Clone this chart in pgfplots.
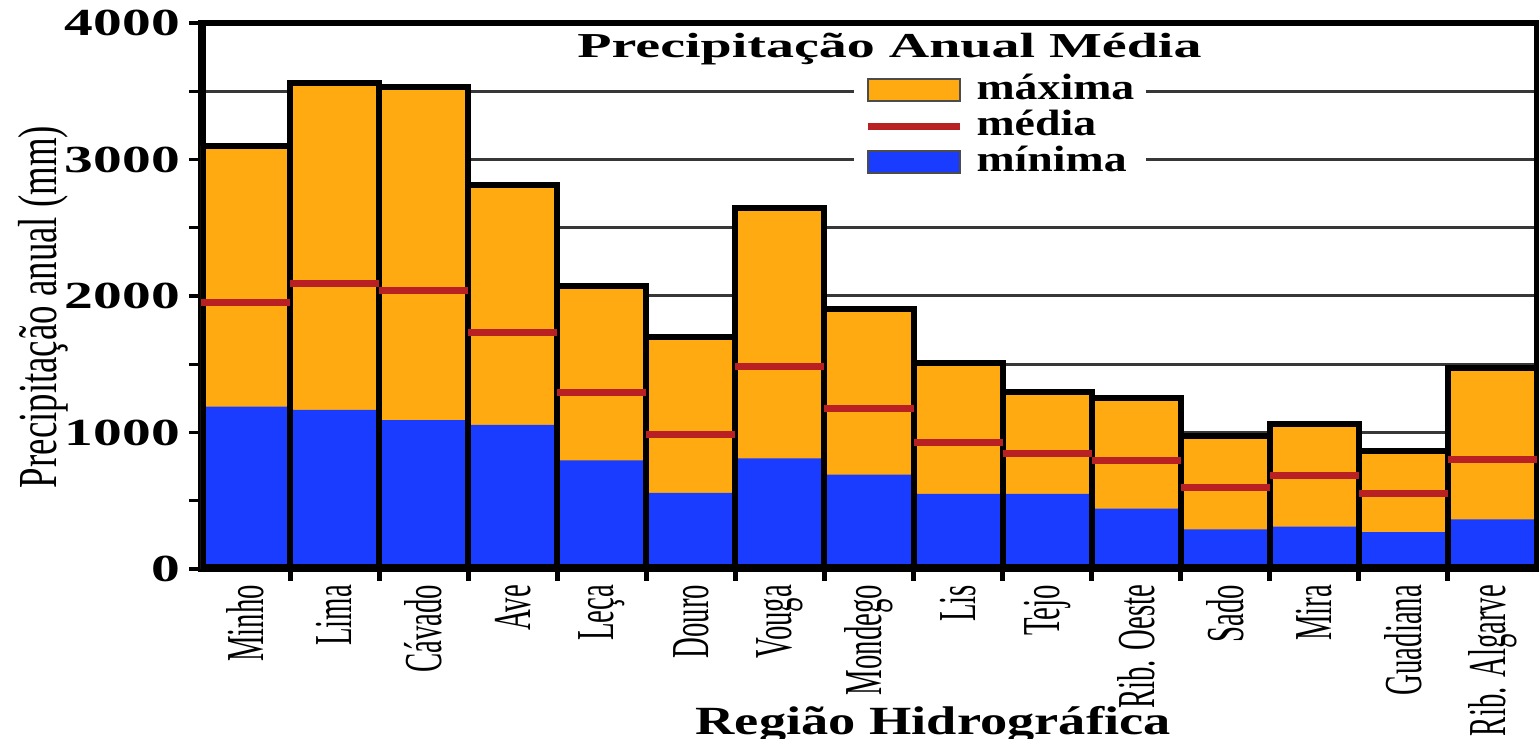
\documentclass[border=0pt]{standalone}
\usepackage{fontspec}
\setmainfont{Liberation Serif}
\usepackage{graphicx}
\usepackage{pgfplots}
\usepackage{pgfplotstable}
\pgfplotsset{compat=1.18}

\definecolor{maxorange}{RGB}{255,170,17}
\definecolor{minblue}{RGB}{26,60,255}
\definecolor{medred}{RGB}{185,32,36}
\definecolor{gridgray}{RGB}{55,55,55}

% squeezed / stretched labels, as in the original
\newcommand{\cl}[1]{\scalebox{0.54}[1]{#1}}
\newcommand{\yl}[1]{\scalebox{1.5}[1]{#1}}
\newcommand{\leg}[1]{\scalebox{1.25}[1]{#1}}

% precipitation per hydrographic region (mm)
\pgfplotstableread{
idx max  med  min
0   3100 1950 1190
1   3560 2090 1165
2   3530 2040 1090
3   2810 1730 1055
4   2070 1290 795
5   1700 982  558
6   2642 1480 810
7   1902 1177 692
8   1508 923  551
9   1300 846  551
10  1255 796  443
11  975  600  290
12  1063 688  310
13  862  551  270
14  1470 803  364
}\precip

\begin{document}
\begin{tikzpicture}
\begin{axis}[
    scale only axis, width=400.8pt, height=163.8pt,
    xmin=-0.5, xmax=14.5, ymin=0, ymax=4000,
    xtick={0,...,14},
    xticklabels={\cl{Minho},\cl{Lima},\cl{Cávado},\cl{Ave},\cl{Leça},\cl{Douro},\cl{Vouga},\cl{Mondego},\cl{Lis},\cl{Tejo},\cl{Rib. Oeste},\cl{Sado},\cl{Mira},\cl{Guadiana},\cl{Rib. Algarve}},
    minor xtick={0.5,1.5,...,13.5},
    xtick pos=left, ytick pos=left,
    tick align=outside,
    major tick length=3.6pt, minor tick length=3.6pt,
    major x tick style={draw=none},
    minor x tick style={line width=1.5pt, black},
    y tick style={line width=1pt, black},
    xticklabel style={rotate=90, anchor=east, font=\fontsize{16}{16}\selectfont, inner sep=1pt},
    ytick={0,1000,...,4000},
    yticklabels={\yl{0},\yl{1000},\yl{2000},\yl{3000},\yl{4000}},
    minor ytick={500,1500,2500,3500},
    yticklabel style={font=\fontsize{11.5}{12}\selectfont\bfseries, inner sep=1pt, xshift=-1.5pt},
    ymajorgrids, yminorgrids,
    major grid style={gridgray, line width=0.9pt},
    minor grid style={gridgray, line width=0.9pt},
    axis line style={line width=1.6pt},
    xlabel={\scalebox{1.36}[1]{Região Hidrográfica}},
    xlabel style={at={(axis description cs:0.548,-0.304)}, anchor=base, font=\fontsize{12}{12}\selectfont\bfseries},
    ylabel={\scalebox{0.67}[1]{Precipitação anual (mm)}},
    ylabel style={at={(axis description cs:-0.118,0.48)}, anchor=center, font=\fontsize{16.5}{17}\selectfont},
    title={\scalebox{1.6}[1]{Precipitação Anual Média}},
    every axis title/.style={at={(axis description cs:0.5153,0.9377)}, anchor=base, font=\fontsize{10.5}{11}\selectfont\bfseries},
    legend style={at={(axis description cs:0.4884,0.923)}, anchor=north west, draw=none, fill=white,
        font=\fontsize{11}{11}\selectfont\bfseries, inner xsep=3pt, inner ysep=2pt, row sep=0pt,
        nodes={inner sep=0.6pt, text height=7.6pt, text depth=2pt},
        /tikz/every odd column/.append style={column sep=3.5pt}},
    legend cell align=left,
]
\addplot[ybar, bar width=1, bar shift=0pt, fill=maxorange, draw=none, forget plot] table[x=idx,y=max]{\precip};
\addplot[ybar, bar width=1, bar shift=0pt, fill=minblue, draw=none, forget plot] table[x=idx,y=min]{\precip};
\addplot[only marks, mark=-, mark size=13.36pt, mark options={line width=2.1pt, draw=medred}, forget plot] table[x=idx,y=med]{\precip};
\addplot[ybar, bar width=1, bar shift=0pt, fill=none, draw=black, line width=1.8pt, forget plot] table[x=idx,y=max]{\precip};

\addlegendimage{legend image code/.code={\draw[fill=maxorange, draw=black!70, line width=0.6pt] (0pt,-3.3pt) rectangle (27.6pt,3.3pt);}}
\addlegendentry{\leg{máxima}}
\addlegendimage{legend image code/.code={\draw[medred, line width=2pt] (0pt,0pt) -- (27.6pt,0pt);}}
\addlegendentry{\leg{média}}
\addlegendimage{legend image code/.code={\draw[fill=minblue, draw=black!70, line width=0.6pt] (0pt,-3.3pt) rectangle (27.6pt,3.3pt);}}
\addlegendentry{\leg{mínima}}

% heavy frame
\draw[line width=3pt] (rel axis cs:0,1) -- (rel axis cs:0,0) -- (rel axis cs:1,0);
\draw[line width=1.8pt] (rel axis cs:0,1) -- (rel axis cs:1,1);
\draw[line width=1.2pt] (rel axis cs:1,1) -- (rel axis cs:1,0);
\coordinate (o) at (rel axis cs:0,0);
\end{axis}
\pgfresetboundingbox
\path ([shift={(-60.3pt,-51pt)}]o) rectangle ([shift={(401.4pt,170.7pt)}]o);
\end{tikzpicture}
\end{document}
